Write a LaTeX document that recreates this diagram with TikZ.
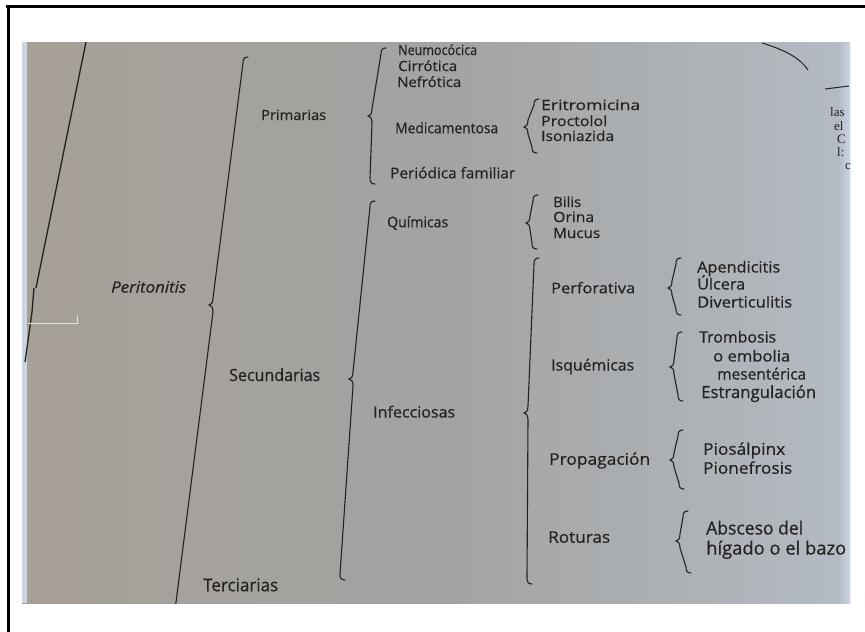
\documentclass[tikz,border=0pt]{standalone}
\usepackage{fontspec}
\usepackage{graphicx}
\setmainfont{Open Sans}
\newfontfamily\labelfont{Open Sans}[FakeBold=0.5]
\newfontfamily\serifpage{Liberation Serif}
\definecolor{ink}{RGB}{36,34,33}
\definecolor{pgleft}{RGB}{166,160,152}
\definecolor{pgmid}{RGB}{163,163,162}
\definecolor{pgright}{RGB}{180,187,195}
\definecolor{edgelight}{RGB}{205,213,228}
\definecolor{artif}{RGB}{225,225,220}
% width, cap height, text
\newcommand{\fw}[3]{\resizebox{#1pt}{#2pt}{\raisebox{0pt}[\fontcharht\font`H][0pt]{#3}}}
% Tx Ty Cx Cy Bx By : top arm, cusp, bottom arm
\newcommand{\mybrace}[6]{%
  \draw[brc] ({#1+5},{#2-4}) .. controls ({#1+1},{#2-4}) and ({#1},{#2-2}) .. ({#1},{#2+2})
    -- ({#3+4},{#4-7}) .. controls ({#3+4},{#4-2}) and ({#3+2},{#4}) .. ({#3},{#4})
    .. controls ({#3+2},{#4}) and ({#3+4},{#4+2}) .. ({#3+4},{#4+7})
    -- ({#5},{#6-2}) .. controls ({#5},{#6+2}) and ({#5+1},{#6+4}) .. ({#5+5},{#6+4});}
\begin{document}
\begin{tikzpicture}[x=1pt,y=-1pt,
  brc/.style={draw=ink,line width=1.1pt,line cap=round},
  lbl/.style={anchor=west,inner sep=0pt,text=ink,font=\labelfont},
  frag/.style={anchor=west,inner sep=0pt,text=ink,font=\serifpage\fontsize{13}{13}\selectfont},
  pageline/.style={draw=ink,line width=1.3pt}]
\useasboundingbox (0,0) rectangle (865,632);
\fill[white] (0,0) rectangle (865,632);
% frame
\fill[black] (6,5) rectangle (865,8);
\fill[black] (7,5) rectangle (10,632);
% photo background
\shade[left color=pgleft,right color=pgmid] (22,42) rectangle (450,603);
\shade[left color=pgmid,right color=pgright] (450,42) rectangle (850,603);
\fill[edgelight] (22,42) rectangle (27,603);
\shade[left color=pgright,right color=edgelight] (838,42) rectangle (850,603);
\begin{scope}
\clip (22,42) rectangle (850,603);
% page edge lines at left
\draw[pageline] (86,42) -- (36,288);
\draw[pageline] (34,288) -- (32,312) -- (25,362);
\draw[artif,line width=0.8pt] (28,323) -- (77,323) -- (77,315);
% top-right marks
\draw[draw=ink,line width=1pt] (762,43) .. controls (785,50) and (800,58) .. (808,70);
\draw[draw=ink,line width=1pt] (825,89) -- (849,86);
\node[frag] (fa) at (830,112) {las};
\node[frag] (fb) at (834,126) {el};
\node[frag] (fc) at (837,139) {C};
\node[frag] (fd) at (837,152) {l:};
\node[frag] (fe) at (845,166) {c};
% braces
\mybrace{243}{61}{209}{305}{175}{612}
\mybrace{381}{52}{368}{116}{370}{180}
\mybrace{534}{103}{524}{127}{532}{149}
\mybrace{370}{205}{349}{379}{340}{576}
\mybrace{533}{199}{526}{223}{532}{245}
\mybrace{534}{262}{524}{413}{527}{580}
\mybrace{676}{262}{668}{288}{676}{311}
\mybrace{677}{336}{670}{367}{678}{397}
\mybrace{678}{434}{670}{460}{679}{485}
\mybrace{683}{515}{676}{541}{686}{569}
\end{scope}
% labels
\node[lbl] (neu) at (398,50) {\fw{79}{10}{Neumocócica}};
\node[lbl] (cir) at (398,66) {\fw{59}{10}{Cirrótica}};
\node[lbl] (nef) at (397,82) {\fw{64}{10}{Nefrótica}};
\node[lbl] (pri) at (261,115) {\fw{65}{10}{Primarias}};
\node[lbl] (med) at (395,128) {\fw{103}{10.5}{Medicamentosa}};
\node[lbl] (eri) at (541,105) {\fw{99}{10}{Eritromicina}};
\node[lbl] (pro) at (541,121) {\fw{66}{10}{Proctolol}};
\node[lbl] (iso) at (541,136) {\fw{73}{10}{Isoniazida}};
\node[lbl] (per) at (390,173) {\fw{125}{10.5}{Periódica familiar}};
\node[lbl] (qui) at (387,222) {\fw{61}{10.5}{Químicas}};
\node[lbl] (bil) at (553,202) {\fw{28}{10}{Bilis}};
\node[lbl] (ori) at (553,217) {\fw{41}{10}{Orina}};
\node[lbl] (muc) at (553,233) {\fw{47}{10}{Mucus}};
\node[lbl] (pe) at (111,287) {\fw{75}{11}{\itshape Peritonitis}};
\node[lbl] (sec) at (229,375) {\fw{91}{12}{Secundarias}};
\node[lbl] (inf) at (373,412) {\fw{82}{11}{Infecciosas}};
\node[lbl] (perf) at (551,288) {\fw{84}{10.5}{Perforativa}};
\node[lbl] (ape) at (697,267) {\fw{83}{11}{Apendicitis}};
\node[lbl] (ulc) at (697,284) {\fw{48}{11}{Úlcera}};
\node[lbl] (div) at (697,302) {\fw{95}{11}{Diverticulitis}};
\node[lbl] (isq) at (551,365) {\fw{83}{11}{Isquémicas}};
\node[lbl] (tro) at (699,337) {\fw{77}{11}{Trombosis}};
\node[lbl] (emb) at (713,356) {\fw{77}{11}{o embolia}};
\node[lbl] (mes) at (717,374) {\fw{89}{11}{mesentérica}};
\node[lbl] (est) at (701,392) {\fw{115}{12}{Estrangulación}};
\node[lbl] (prop) at (549,459) {\fw{101}{11.5}{Propagación}};
\node[lbl] (pios) at (703,449) {\fw{82}{11.5}{Piosálpinx}};
\node[lbl] (pion) at (703,468) {\fw{89}{11.5}{Pionefrosis}};
\node[lbl] (rot) at (548,537) {\fw{62}{11.5}{Roturas}};
\node[lbl] (abs) at (706,528) {\fw{97}{13}{Absceso del}};
\node[lbl] (hig) at (706,548) {\fw{140}{13}{hígado o el bazo}};
\node[lbl] (ter) at (203,585) {\fw{75}{12.5}{Terciarias}};
\end{tikzpicture}
\end{document}
